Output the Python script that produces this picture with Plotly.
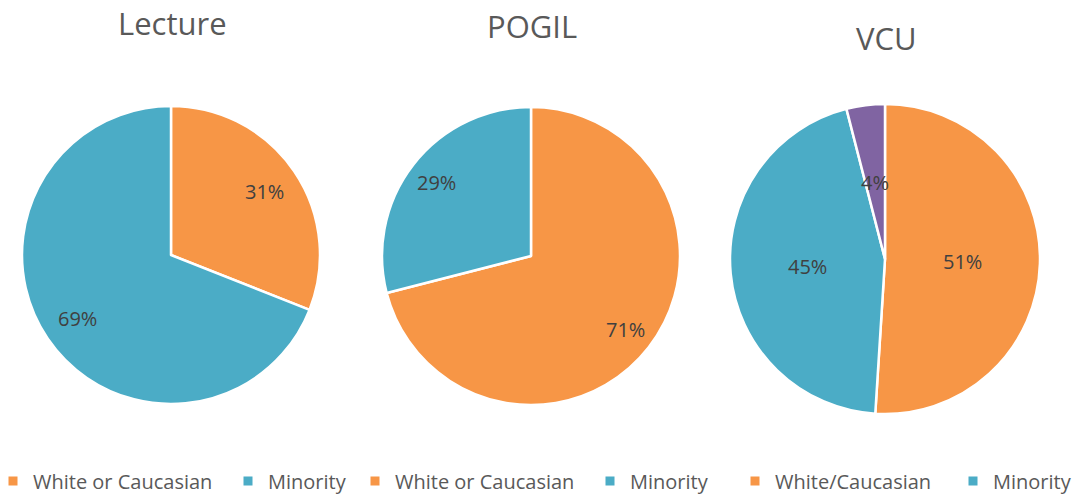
import math
import plotly.graph_objects as go

titles = ["Lecture", "POGIL", "VCU"]
lecture_labels = ["White or Caucasian", "Minority"]
lecture_values = [31, 69]
pogil_labels = ["White or Caucasian", "Minority"]
pogil_values = [71, 29]
vcu_labels = ["White/Caucasian", "Minority", "Other"]
vcu_values = [51, 45, 4]

ORANGE = "#F79646"
BLUE = "#4BACC6"
PURPLE = "#8064A2"
FONT = "Open Sans"
TXT = "#404040"
GREY = "#595959"

# the figure fills the whole window (page body margin removed below)
W, H = 1074, 498


def fx(xs):
    return xs / W


def fy(ys):
    return 1 - ys / H


# pie boxes in window pixels (left, right, top, bottom)
boxes = [(22, 320, 105, 405), (382, 680, 106, 406), (730, 1040, 103, 415)]
# radial position of the data labels (fraction of radius), like Excel best-fit
label_r = [0.76, 0.8, 0.5]

fig = go.Figure()
datasets = [
    (lecture_labels, lecture_values, [ORANGE, BLUE]),
    (pogil_labels, pogil_values, [ORANGE, BLUE]),
    (vcu_labels, vcu_values, [ORANGE, BLUE, PURPLE]),
]
for (labels, values, colors), (l, r, t, b), lr in zip(datasets, boxes, label_r):
    dom = dict(x=[fx(l), fx(r)], y=[fy(b), fy(t)])
    fig.add_trace(go.Pie(
        labels=labels, values=values, sort=False, direction="clockwise",
        rotation=0, domain=dom, showlegend=False,
        marker=dict(colors=colors, line=dict(color="white", width=2.5)),
        textinfo="none", hoverinfo="label+percent",
    ))
    # data labels placed at the slice mid-angle
    cx, cy = (l + r) / 2, (t + b) / 2
    rad = min(r - l, b - t) / 2
    total = sum(values)
    cum = 0
    for v in values:
        mid = (cum + v / 2) / total * 2 * math.pi
        cum += v
        x = cx + lr * rad * math.sin(mid)
        y = cy - lr * rad * math.cos(mid)
        fig.add_annotation(text=f"{round(v / total * 100)}%", x=fx(x), y=fy(y),
                           xref="paper", yref="paper", showarrow=False,
                           xanchor="center", yanchor="middle",
                           font=dict(family=FONT, size=20, color=TXT))

# legend entries, one legend per entry (the small "Other" slice has none)
legend_items = [
    (lecture_labels[0], ORANGE, 15),
    (lecture_labels[1], BLUE, 250),
    (pogil_labels[0], ORANGE, 377),
    (pogil_labels[1], BLUE, 612),
    (vcu_labels[0], ORANGE, 757),
    (vcu_labels[1], BLUE, 975),
]
legend_layout = {}
for i, (lab, col, sq_x) in enumerate(legend_items):
    key = "legend" if i == 0 else f"legend{i + 1}"
    fig.add_trace(go.Scatter(
        x=[None], y=[None], mode="markers", name=lab, legend=key,
        marker=dict(symbol="square", size=9, color=col), showlegend=True,
    ))
    legend_layout[key] = dict(
        orientation="h", yanchor="middle", xanchor="left",
        x=fx(sq_x - 3 - 19), y=fy(481),
        font=dict(family=FONT, size=20, color=GREY),
        bgcolor="rgba(0,0,0,0)", itemwidth=30,
    )

title_pos = [(172, 23), (532, 26), (886, 38)]
for t, (x, y) in zip(titles, title_pos):
    fig.add_annotation(text=t, x=fx(x), y=fy(y), xref="paper", yref="paper",
                       showarrow=False, xanchor="center", yanchor="middle",
                       font=dict(family=FONT, size=31, color=GREY))

fig.update_layout(
    width=W, height=H,
    margin=dict(l=0, r=0, t=0, b=0, autoexpand=False),
    paper_bgcolor="white", plot_bgcolor="white",
    xaxis=dict(visible=False), yaxis=dict(visible=False),
    **legend_layout,
)

fig.write_html(
    "out.html",
    config={"displayModeBar": False},
    post_script="document.body.style.margin='0';document.body.style.overflow='hidden';",
)
